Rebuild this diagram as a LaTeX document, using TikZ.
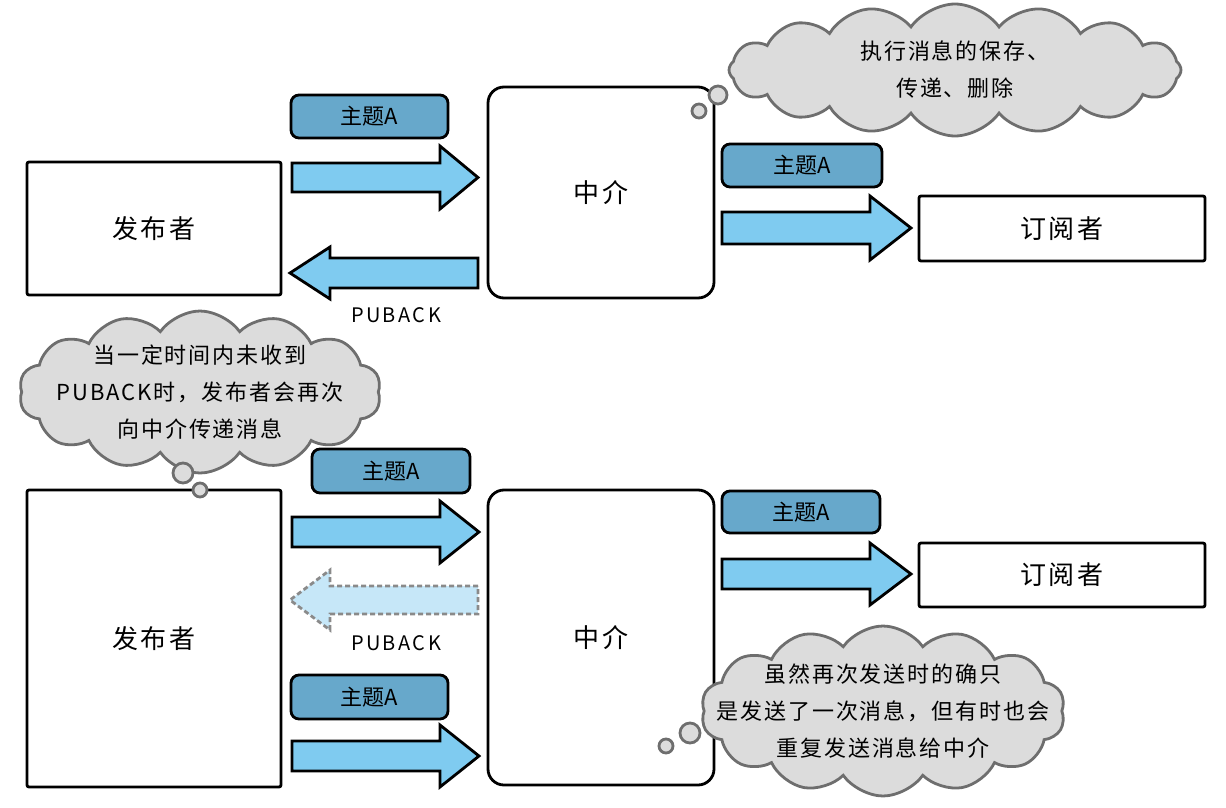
\documentclass[tikz,border=0pt]{standalone}
\usepackage{fontspec}
\setmainfont{Noto Sans CJK SC}
\newfontfamily\handA[LetterSpace=9]{Noto Sans CJK SC}
\newfontfamily\handB[LetterSpace=12]{Noto Sans CJK SC}
\usetikzlibrary{shapes.symbols}
\definecolor{lblblue}{HTML}{67A8CB}
\definecolor{arrblue}{HTML}{7FCBF0}
\definecolor{palblue}{HTML}{C6E7F8}
\definecolor{cloudfill}{HTML}{DCDCDC}
\definecolor{cloudline}{HTML}{6E6E6E}
\definecolor{dashgray}{HTML}{8A8A8A}
\newcommand{\myblockarrow}[7][barrow]{%
  \draw[#1] (#2,#5-#6) -- (#3,#5-#6) -- (#3,#5-#7) -- (#4,#5) -- (#3,#5+#7) -- (#3,#5+#6) -- (#2,#5+#6) -- cycle;}
\tikzset{
  pubbox/.style={draw=black, line width=2.8pt, rounded corners=2pt, fill=white, font=\handA\fontsize{26}{30}\selectfont},
  brokerbox/.style={draw=black, line width=2.8pt, rounded corners=16pt, fill=white, font=\handA\fontsize{26}{30}\selectfont},
  lblbox/.style={draw=black, line width=2.8pt, rounded corners=8pt, fill=lblblue, font=\fontsize{22}{26}\selectfont},
  barrow/.style={draw=black, line width=2.8pt, fill=arrblue, line join=miter},
  dasharrow/.style={draw=dashgray, line width=2.8pt, fill=palblue, dash pattern=on 5pt off 3pt},
  cloudshape/.style={cloud, cloud puffs=#1, cloud puff arc=110, draw=cloudline, line width=2.8pt, fill=cloudfill, inner sep=0pt},
  cloudtext/.style={align=center, font=\handA\fontsize{22}{37}\selectfont},
  bubble/.style={circle, draw=cloudline, line width=2.8pt, fill=cloudfill, inner sep=0pt},
  acklbl/.style={font=\handB\fontsize{20}{22}\selectfont}
}
\begin{document}
\begin{tikzpicture}[x=1pt,y=-1pt]
\useasboundingbox (0,0) rectangle (1226,808);
% ---------- top section ----------
\node[pubbox, minimum width=254pt, minimum height=133pt] (pubA) at (154,228.5) {发布者};
\node[brokerbox, minimum width=226pt, minimum height=211pt] (brkA) at (601,192.5) {中介};
\node[pubbox, minimum width=286pt, minimum height=65pt] (subA) at (1062,228.5) {订阅者};
\node[lblbox, minimum width=157pt, minimum height=43pt] (lblA1) at (369.5,116.5) {主题A};
\node[lblbox, minimum width=160pt, minimum height=43pt] (lblA2) at (802,165.5) {主题A};
\myblockarrow{292}{440}{478}{177.5}{14.5}{31.5}
\myblockarrow{478}{330}{290}{273}{15}{26}
\myblockarrow{722}{870}{911}{228}{16}{32}
\node[acklbl] (ackA) at (396,315) {PUBACK};
% top cloud
\node[cloudshape=16, minimum width=452pt, minimum height=132pt] (cloudA) at (955,70) {};
\node[cloudtext] (cloudAtext) at (cloudA.center) {执行消息的保存、\\传递、删除};
\node[bubble, minimum size=18pt] (bubA1) at (718,95) {};
\node[bubble, minimum size=14pt] (bubA2) at (699,111) {};
% ---------- bottom section ----------
\node[pubbox, minimum width=254pt, minimum height=297pt] (pubB) at (154,638.5) {发布者};
\node[brokerbox, minimum width=226pt, minimum height=295pt] (brkB) at (601,637.5) {中介};
\node[pubbox, minimum width=286pt, minimum height=64pt] (subB) at (1062,575) {订阅者};
\node[lblbox, minimum width=158pt, minimum height=44pt] (lblB1) at (391,471) {主题A};
\node[lblbox, minimum width=158pt, minimum height=42pt] (lblB2) at (801,512) {主题A};
\node[lblbox, minimum width=157pt, minimum height=44pt] (lblB3) at (369.5,697) {主题A};
\myblockarrow{292}{440}{479}{532}{15}{31}
\myblockarrow[dasharrow]{478}{330}{290}{600}{14}{30}
\myblockarrow{292}{440}{479}{756}{15}{31}
\myblockarrow{722}{870}{911}{574}{15}{31}
\node[acklbl] (ackB) at (396,643) {PUBACK};
% left cloud
\node[cloudshape=14, minimum width=362pt, minimum height=162pt] (cloudB) at (200,392) {};
\node[cloudtext] (cloudBtext) at (cloudB.center) {当一定时间内未收到\\PUBACK时，发布者会再次\\向中介传递消息};
\node[bubble, minimum size=20pt] (bubB1) at (183,473) {};
\node[bubble, minimum size=14pt] (bubB2) at (200,490) {};
% bottom right cloud
\node[cloudshape=14, minimum width=364pt, minimum height=170pt] (cloudC) at (883,711) {};
\node[cloudtext] (cloudCtext) at (cloudC.center) {虽然再次发送时的确只\\是发送了一次消息，但有时也会\\重复发送消息给中介};
\node[bubble, minimum size=20pt] (bubC1) at (690,733) {};
\node[bubble, minimum size=14pt] (bubC2) at (666,746) {};
\end{tikzpicture}
\end{document}
